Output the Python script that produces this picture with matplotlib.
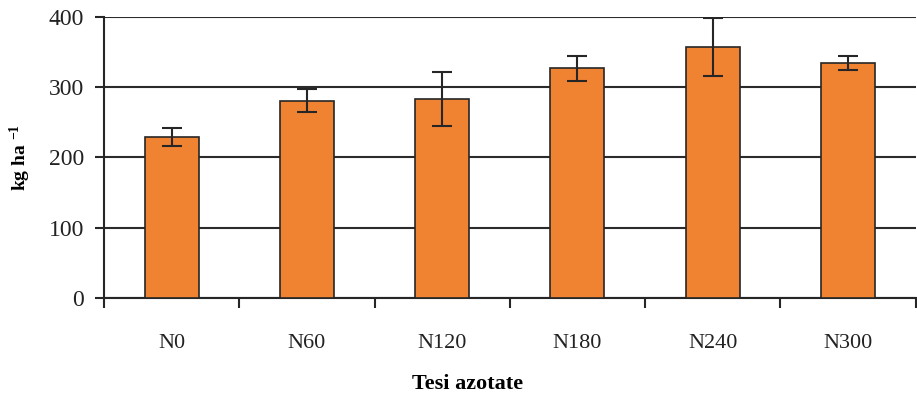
import numpy as np
import matplotlib.pyplot as plt

# dati
tesi = ['N0', 'N60', 'N120', 'N180', 'N240', 'N300']
valori = [229, 281, 283, 327, 357, 335]
errori = [13, 16, 38, 18, 41, 10]

plt.rcParams['font.family'] = ['Liberation Serif', 'DejaVu Serif']
plt.rcParams['mathtext.default'] = 'regular'

fig = plt.figure(figsize=(9.17, 3.95), dpi=100)
ax = fig.add_axes([0.1134, 0.2456, 0.885, 0.7114])

x = np.arange(len(tesi))
ax.bar(x, valori, width=0.4, color='#F08332', edgecolor='#262626', linewidth=1.2, zorder=3)
ax.errorbar(x, valori, yerr=errori, fmt='none', ecolor='#262626', elinewidth=1.5,
            capsize=7, capthick=1.5, zorder=4)

ax.set_xlim(-0.5, len(tesi) - 0.5)
ax.set_ylim(0, 400)
ax.set_yticks([0, 100, 200, 300, 400])
ax.yaxis.grid(True, color='#2b2b2b', linewidth=1.5, zorder=0)
ax.set_axisbelow(True)

# tacche tra le categorie
ax.set_xticks(x)
ax.set_xticklabels(tesi)
ax.set_xticks(np.arange(-0.5, len(tesi)), minor=True)
ax.tick_params(axis='x', which='major', length=0, pad=26, labelsize=16, colors='#222222')
ax.tick_params(axis='x', which='minor', length=7, width=1.5, color='#262626')
ax.tick_params(axis='y', length=6.5, width=1.5, color='#262626', labelsize=17, pad=8,
               labelcolor='#222222')

for s in ['top', 'right']:
    ax.spines[s].set_visible(False)
for s in ['left', 'bottom']:
    ax.spines[s].set_linewidth(1.5)
    ax.spines[s].set_color('#262626')

ax.set_ylabel('kg ha $^{-1}$', fontsize=14, fontweight='bold', labelpad=11)
ax.set_xlabel('Tesi azotate', fontsize=16, fontweight='bold')
ax.xaxis.set_label_coords(0.448, -0.27)

fig.savefig('out.png', dpi=100)
